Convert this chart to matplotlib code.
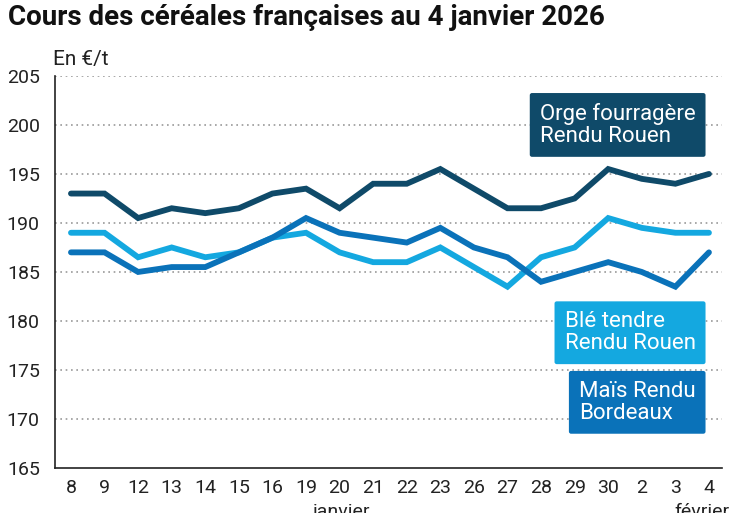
import matplotlib as mpl
mpl.use('Agg')
import matplotlib.pyplot as plt

plt.rcParams['font.family'] = ['Roboto', 'DejaVu Sans']

# jours de cotation
days = ['8', '9', '12', '13', '14', '15', '16', '19', '20', '21',
        '22', '23', '26', '27', '28', '29', '30', '2', '3', '4']

orge = [193, 193, 190.5, 191.5, 191, 191.5, 193, 193.5, 191.5, 194,
        194, 195.5, 193.5, 191.5, 191.5, 192.5, 195.5, 194.5, 194, 195]
ble = [189, 189, 186.5, 187.5, 186.5, 187, 188.5, 189, 187, 186,
       186, 187.5, 185.5, 183.5, 186.5, 187.5, 190.5, 189.5, 189, 189]
mais = [187, 187, 185, 185.5, 185.5, 187, 188.5, 190.5, 189, 188.5,
        188, 189.5, 187.5, 186.5, 184, 185, 186, 185, 183.5, 187]

yticks = [165, 170, 175, 180, 185, 190, 195, 200, 205]

c_orge = '#0f4a69'
c_ble = '#14a8e0'
c_mais = '#0a72b9'

fig = plt.figure(figsize=(7.47, 5.13), dpi=100)
ax = fig.add_axes([0.0736, 0.0877, 0.893, 0.7643])

x = list(range(len(days)))
ax.plot(x, ble, color=c_ble, lw=4.2, solid_capstyle='round', solid_joinstyle='miter', zorder=3)
ax.plot(x, mais, color=c_mais, lw=4.2, solid_capstyle='round', solid_joinstyle='miter', zorder=3)
ax.plot(x, orge, color=c_orge, lw=4.2, solid_capstyle='round', solid_joinstyle='miter', zorder=4)

ax.set_xlim(-0.476, 19.39)
ax.set_ylim(165, 205)
ax.set_yticks(yticks)
ax.set_xticks(x)
ax.set_xticklabels(days)
ax.tick_params(length=0, labelsize=14, colors='#222222', pad=8)
ax.tick_params(axis='y', pad=11)

for v in yticks[1:]:
    ax.axhline(v, color='#999999', lw=1.2, ls=(0, (1, 2.2)), zorder=1)

for s in ['top', 'right']:
    ax.spines[s].set_visible(False)
ax.spines['left'].set_color('#222222')
ax.spines['bottom'].set_color('#222222')
ax.spines['left'].set_linewidth(1.2)
ax.spines['bottom'].set_linewidth(1.2)

# mois sous l'axe
ax.text(8.05, -0.09, 'janvier', transform=ax.get_xaxis_transform(), ha='center',
        va='top', fontsize=14, color='#222222')
ax.text(18.8, -0.09, 'février', transform=ax.get_xaxis_transform(), ha='center',
        va='top', fontsize=14, color='#222222')

# étiquettes des séries
def label(x0, y0, txt, col):
    ax.text(x0, y0, txt, fontsize=16, color='white', ha='right', va='center',
            multialignment='left', linespacing=1.05, zorder=6,
            bbox=dict(boxstyle='round,pad=0.45,rounding_size=0.1', fc=col, ec='none'))

label(18.6, 200.0, 'Orge fourragère\nRendu Rouen', c_orge)
label(18.6, 178.8, 'Blé tendre\nRendu Rouen', c_ble)
label(18.6, 171.7, 'Maïs Rendu\nBordeaux', c_mais)

fig.text(0.011, 0.965, 'Cours des céréales françaises au 4 janvier 2026',
         fontsize=20, fontweight='bold', color='#111111', ha='left', va='center')
fig.text(0.071, 0.884, 'En €/t', fontsize=15, color='#222222', ha='left', va='center')

plt.savefig('out.png')
plt.close()
